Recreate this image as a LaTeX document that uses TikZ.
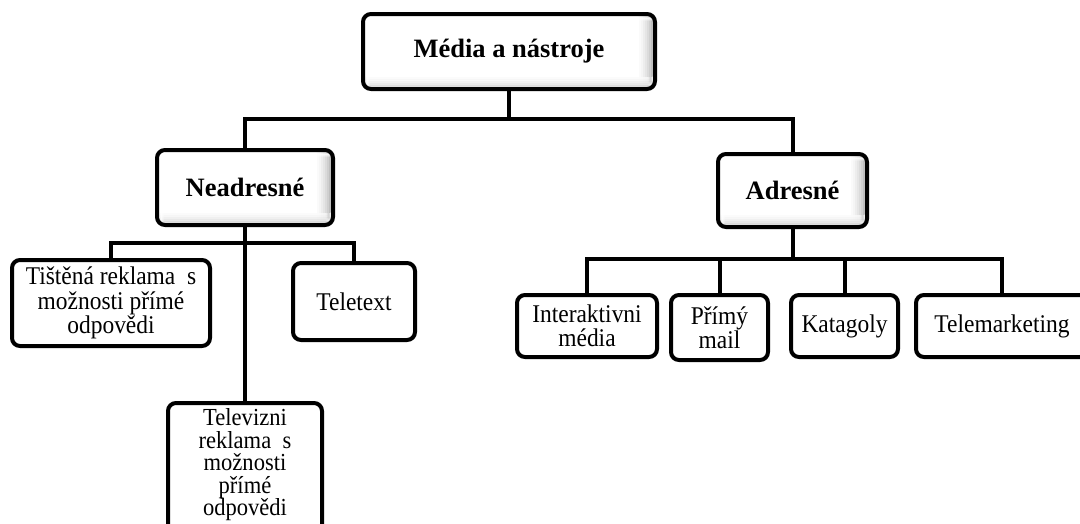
\documentclass[tikz,border=0pt]{standalone}
\usepackage{fontspec}
\setmainfont{Liberation Serif}
\newfontfamily\tallserif[FakeStretch=0.92]{Liberation Serif}
\usetikzlibrary{calc}
\begin{document}
\begin{tikzpicture}[x=1pt,y=-1pt,
  txt/.style={inner sep=0pt,align=center,font=\tallserif\fontsize{25.5}{24.5}\selectfont},
  box/.style={txt,draw=black,line width=4pt,rounded corners=8pt,fill=white},
  headbox/.style={box,font=\rmfamily\fontsize{26.5}{28}\selectfont\bfseries,
    path picture={
      \foreach \i/\c in {0/2,1/4,2/7,3/10,4/14,5/19,6/25,7/32}{
        \fill[black!\c] ([xshift={-16pt+2pt*\i}]path picture bounding box.north east)
          rectangle ([xshift={-14pt+2pt*\i}]path picture bounding box.south east);
      }
      \foreach \i/\c in {0/2,1/4,2/7,3/11,4/16,5/22}{
        \fill[black!\c,opacity=0.8] ([yshift={12pt-2pt*\i}]path picture bounding box.south west)
          rectangle ([yshift={10pt-2pt*\i}]path picture bounding box.south east);
      }
    }},
  conn/.style={draw=black,line width=4pt,line cap=rect}]
\useasboundingbox (0,0) rectangle (1080,523);
\fill[white] (0,0) rectangle (1080,523);

% nodes
\node[headbox,minimum width=292pt,minimum height=75pt] (root) at (509,51.5) {Média a nástroje};
\node[headbox,minimum width=176pt,minimum height=75pt] (nead) at (245,187.5) {Neadresné};
\node[headbox,minimum width=149pt,minimum height=73pt] (adr) at (792.5,190.5) {Adresné};

\node[box,minimum width=198pt,minimum height=86pt] (tis) at (111,303) {Tištěná reklama~ s\\možnosti přímé\\odpovědi};
\node[box,minimum width=122pt,minimum height=77pt] (tel) at (354,301.5) {Teletext};
\node[box,minimum width=154pt,minimum height=134pt] (tv) at (245,470) {};
\node[txt,font=\tallserif\fontsize{24.5}{22.5}\selectfont] (tvtext) at (245,465) {Televizni\\reklama~ s\\možnosti\\přímé\\odpovědi};

\node[box,minimum width=140pt,minimum height=62pt] (inter) at (587,326) {Interaktivni\\média};
\node[box,minimum width=97pt,minimum height=65pt] (prim) at (719.5,327.5) {Přímý\\mail};
\node[box,minimum width=107pt,minimum height=62pt] (kat) at (844.5,326) {Katagoly};
\node[box,minimum width=172pt,minimum height=62pt] (telem) at (1002,326) {Telemarketing};

% bus rows
\coordinate (b0) at (0,119);
\coordinate (b1) at (0,243);
\coordinate (b2) at (0,259);

% connectors
\draw[conn] (root.south) -- (root.south |- b0);
\draw[conn] (nead.north) |- (root.south |- b0) -| (adr.north);

\draw[conn] (nead.south) -- (tv.north);
\draw[conn] (tis.north) |- (nead.south |- b1) -| (tel.north);

\draw[conn] (adr.south) -- (adr.south |- b2);
\draw[conn] (inter.north) |- (adr.south |- b2) -| (telem.north);
\draw[conn] (prim.north) -- (prim.north |- b2);
\draw[conn] (kat.north) -- (kat.north |- b2);
\end{tikzpicture}
\end{document}
